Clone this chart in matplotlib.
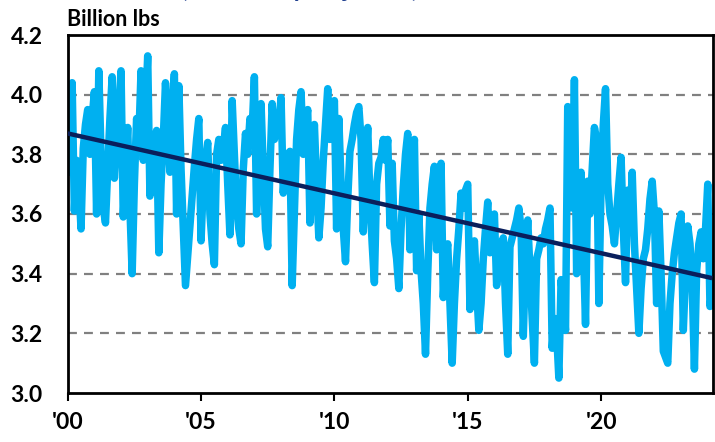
import matplotlib
matplotlib.use("Agg")
import matplotlib.pyplot as plt
import numpy as np

# Monthly values (billion lbs), Jan 2000 .. Mar 2024
y2000 = [3.97, 3.74, 4.04, 3.61, 3.78, 3.70, 3.55, 3.82, 3.90, 3.95, 3.80, 3.92]
y2001 = [4.01, 3.60, 4.08, 3.80, 3.62, 3.57, 3.75, 3.92, 4.06, 3.72, 3.85, 3.95]
y2002 = [4.08, 3.59, 3.75, 3.89, 3.62, 3.40, 3.70, 3.92, 3.85, 4.08, 3.78, 3.95]
y2003 = [4.13, 3.66, 3.80, 3.75, 3.88, 3.47, 3.70, 3.85, 4.04, 3.90, 3.74, 3.95]
y2004 = [4.07, 3.60, 4.03, 3.75, 3.55, 3.36, 3.46, 3.56, 3.66, 3.76, 3.85, 3.92]
y2005 = [3.51, 3.70, 3.78, 3.84, 3.60, 3.50, 3.43, 3.80, 3.85, 3.78, 3.82, 3.89]
y2006 = [3.70, 3.53, 3.98, 3.80, 3.62, 3.55, 3.50, 3.75, 3.87, 3.80, 3.92, 3.88]
y2007 = [4.06, 3.60, 3.85, 3.97, 3.75, 3.55, 3.49, 3.75, 3.97, 3.85, 3.93, 3.90]
y2008 = [3.99, 3.67, 3.78, 3.80, 3.81, 3.36, 3.60, 3.85, 3.95, 4.01, 3.80, 3.90]
y2009 = [3.95, 3.57, 3.72, 3.90, 3.70, 3.52, 3.62, 3.78, 3.90, 4.02, 3.85, 3.92]
y2010 = [3.98, 3.55, 3.92, 3.70, 3.55, 3.44, 3.65, 3.81, 3.85, 3.90, 3.94, 3.96]
y2011 = [3.85, 3.54, 3.75, 3.89, 3.65, 3.50, 3.37, 3.70, 3.77, 3.79, 3.85, 3.78]
y2012 = [3.85, 3.56, 3.77, 3.51, 3.45, 3.35, 3.55, 3.69, 3.80, 3.87, 3.48, 3.70]
y2013 = [3.85, 3.41, 3.60, 3.41, 3.30, 3.13, 3.40, 3.62, 3.70, 3.76, 3.48, 3.65]
y2014 = [3.77, 3.32, 3.45, 3.50, 3.30, 3.10, 3.30, 3.45, 3.55, 3.67, 3.62, 3.68]
y2015 = [3.70, 3.28, 3.45, 3.51, 3.35, 3.21, 3.30, 3.45, 3.55, 3.64, 3.47, 3.55]
y2016 = [3.60, 3.36, 3.45, 3.50, 3.52, 3.30, 3.13, 3.49, 3.52, 3.55, 3.58, 3.62]
y2017 = [3.55, 3.19, 3.45, 3.58, 3.41, 3.25, 3.10, 3.45, 3.48, 3.52, 3.50, 3.55]
y2018 = [3.58, 3.62, 3.15, 3.25, 3.20, 3.05, 3.38, 3.30, 3.21, 3.96, 3.70, 3.62]
y2019 = [4.05, 3.40, 3.65, 3.74, 3.50, 3.23, 3.71, 3.60, 3.75, 3.89, 3.85, 3.30]
y2020 = [3.70, 3.90, 4.02, 3.70, 3.60, 3.56, 3.50, 3.60, 3.70, 3.79, 3.55, 3.37]
y2021 = [3.68, 3.55, 3.74, 3.50, 3.35, 3.20, 3.35, 3.45, 3.48, 3.55, 3.65, 3.71]
y2022 = [3.60, 3.30, 3.61, 3.40, 3.14, 3.12, 3.10, 3.30, 3.40, 3.47, 3.52, 3.57]
y2023 = [3.60, 3.21, 3.40, 3.56, 3.50, 3.36, 3.08, 3.41, 3.50, 3.54, 3.45, 3.55]
y2024 = [3.70, 3.29, 3.35]

start_year = 2000
trend_ends = [3.87, 3.385]   # trend line value at first and last month
y_ticks = [3.0, 3.2, 3.4, 3.6, 3.8, 4.0, 4.2]
x_tick_years = [2000, 2005, 2010, 2015, 2020]
x_tick_labels = ["'00", "'05", "'10", "'15", "'20"]
unit_label = "Billion lbs"
title_text = "(Seasonally Adjusted)"

values = (y2000 + y2001 + y2002 + y2003 + y2004 + y2005 + y2006 + y2007 +
          y2008 + y2009 + y2010 + y2011 + y2012 + y2013 + y2014 + y2015 +
          y2016 + y2017 + y2018 + y2019 + y2020 + y2021 + y2022 + y2023 + y2024)
t = start_year + np.arange(len(values)) / 12.0

plt.rcParams['font.family'] = ['Lato', 'DejaVu Sans']

fig = plt.figure(figsize=(7.15, 4.42), dpi=100)
ax = fig.add_axes([67.7/715, 1 - 393/442, (713 - 67.7)/715, (393 - 35)/442])

for yv in [3.2, 3.4, 3.6, 3.8, 4.0]:
    ax.axhline(yv, color='#808080', lw=1.6, ls=(0, (4, 3.2)), zorder=1)

ax.plot(t, values, color='#00B0F0', lw=5.4, solid_joinstyle='round',
        solid_capstyle='round', zorder=2)
ax.plot([t[0], t[-1]], trend_ends, color='#0A1F5C', lw=3.2, zorder=3,
        solid_capstyle='butt')

ax.set_xlim(t[0], t[-1] + 0.03)
ax.set_ylim(3.0, 4.2)
ax.set_yticks(y_ticks)
ax.set_yticklabels([f"{v:.1f}" for v in y_ticks], fontsize=16.5, fontweight='bold')
ax.set_xticks(x_tick_years)
ax.set_xticklabels(x_tick_labels, fontsize=16.5, fontweight='bold')
ax.tick_params(axis='y', length=0, pad=18)
ax.tick_params(axis='x', length=6, width=1.5, direction='out', pad=8)
for s in ax.spines.values():
    s.set_linewidth(2.0)
    s.set_color('black')

fig.text(67/715, 1 - 19/442, unit_label, fontsize=15.5, fontweight='bold',
         ha='left', va='center')
fig.text(300/715, 1 + 11/442, title_text, fontsize=18, fontweight='bold',
         color='#1F3F8F', ha='center', va='center')

fig.savefig("out.png", dpi=100)
